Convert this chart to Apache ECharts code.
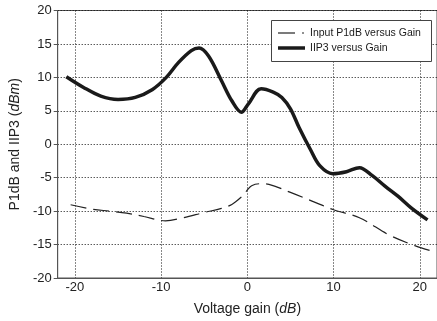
<!DOCTYPE html>
<html>
<head>
<meta charset="utf-8">
<script src="https://cdn.jsdelivr.net/npm/echarts@6/dist/echarts.min.js"></script>
<style>html,body{margin:0;padding:0;background:#fff}#c{width:437px;height:321px}</style>
</head>
<body>
<div id="c"></div>
<script>
const xTicks = [-20, -10, 0, 10, 20];
const yTicks = [-20, -15, -10, -5, 0, 5, 10, 15, 20];
const seriesNames = ['Input P1dB versus Gain', 'IIP3 versus Gain'];
const p1dbX = [-20.5, -18, -16, -14, -12, -9.5, -7.5, -5, -3, -1.8, -0.8, -0.1, 0.5, 1.5, 2.5, 5, 7.5, 10, 13, 16.5, 19.5, 21.2];
const p1dbY = [-9.05, -9.7, -10.0, -10.3, -10.8, -11.45, -11.0, -10.2, -9.6, -9.0, -8.0, -7.0, -6.2, -5.9, -6.0, -7.2, -8.5, -9.8, -11.0, -13.6, -15.2, -15.9];
const iip3X = [-21, -19, -17, -15, -13, -11, -9.4, -8, -6.5, -5.6, -4.5, -3, -1.8, -0.7, 0.1, 1.6, 3, 4, 5, 6, 7.3, 8.4, 9.9, 11.5, 13, 14.5, 16, 17.5, 19, 20.9];
const iip3Y = [10.1, 8.5, 7.2, 6.7, 7.0, 8.2, 10.0, 12.2, 14.0, 14.4, 13.2, 9.5, 6.5, 4.8, 6.0, 8.3, 7.8, 7.0, 5.3, 2.5, -0.75, -3.2, -4.4, -4.1, -3.5, -4.7, -6.3, -7.8, -9.5, -11.3];

const FONT = "'Liberation Sans', Arial, sans-serif";
const chart = echarts.init(document.getElementById('c'), null, {renderer: 'canvas'});
const legendTextStyle = {fontSize: 10.5, fill: '#1a1a1a', fontFamily: FONT, verticalAlign: 'middle', align: 'left'};
chart.setOption({
  animation: false,
  backgroundColor: '#fff',
  grid: {left: 53, top: 10.5, width: 387.2, height: 268.8, show: true, borderColor: '#555', borderWidth: 1, backgroundColor: 'transparent'},
  xAxis: {
    type: 'value', min: -22, max: 22,
    axisLine: {show: true, onZero: false, lineStyle: {color: '#555', width: 1}},
    axisTick: {show: false, customValues: xTicks},
    axisLabel: {customValues: xTicks, color: '#222', fontSize: 13, fontFamily: FONT, margin: 3},
    splitLine: {show: true, lineStyle: {color: '#111', width: 1, type: [1, 2]}},
    name: 'Voltage gain ({i|dB})', nameLocation: 'middle', nameGap: 24,
    nameTextStyle: {color: '#222', fontSize: 14, fontFamily: FONT, rich: {i: {fontStyle: 'italic', fontSize: 14, fontFamily: FONT, color: '#222'}}}
  },
  yAxis: {
    type: 'value', min: -20, max: 20, interval: 5,
    axisLine: {show: true, onZero: false, lineStyle: {color: '#555', width: 1}},
    axisTick: {show: true, length: 4, lineStyle: {color: '#555'}},
    axisLabel: {color: '#222', fontSize: 13, fontFamily: FONT, margin: 6},
    splitLine: {show: true, lineStyle: {color: '#111', width: 1, type: [1, 2]}},
    name: 'P1dB and IIP3 ({i|dBm})', nameLocation: 'middle', nameGap: 30,
    nameTextStyle: {color: '#222', fontSize: 14, fontFamily: FONT, rich: {i: {fontStyle: 'italic', fontSize: 14, fontFamily: FONT, color: '#222'}}}
  },
  graphic: [
    {type: 'rect', left: 271, top: 20, z: 100, shape: {width: 160, height: 41}, style: {fill: '#fff', stroke: '#444', lineWidth: 1}},
    {type: 'line', z: 101, shape: {x1: 278, y1: 33, x2: 295, y2: 33}, style: {stroke: '#222', lineWidth: 1.2}},
    {type: 'line', z: 101, shape: {x1: 302, y1: 33, x2: 304, y2: 33}, style: {stroke: '#222', lineWidth: 1.2}},
    {type: 'line', z: 101, shape: {x1: 278, y1: 48, x2: 305, y2: 48}, style: {stroke: '#1a1a1a', lineWidth: 3.5}},
    {type: 'text', z: 101, x: 310, y: 33, style: Object.assign({text: seriesNames[0]}, legendTextStyle)},
    {type: 'text', z: 101, x: 310, y: 48, style: Object.assign({text: seriesNames[1]}, legendTextStyle)}
  ],
  series: [
    {
      name: seriesNames[0], type: 'line', symbol: 'none', smooth: 0.35,
      data: p1dbX.map((x, i) => [x, p1dbY[i]]),
      lineStyle: {color: '#222', width: 1.2, type: [16, 7]}
    },
    {
      name: seriesNames[1], type: 'line', symbol: 'none', smooth: 0.35,
      data: iip3X.map((x, i) => [x, iip3Y[i]]),
      lineStyle: {color: '#1a1a1a', width: 3.5}
    }
  ]
});
</script>
</body>
</html>
